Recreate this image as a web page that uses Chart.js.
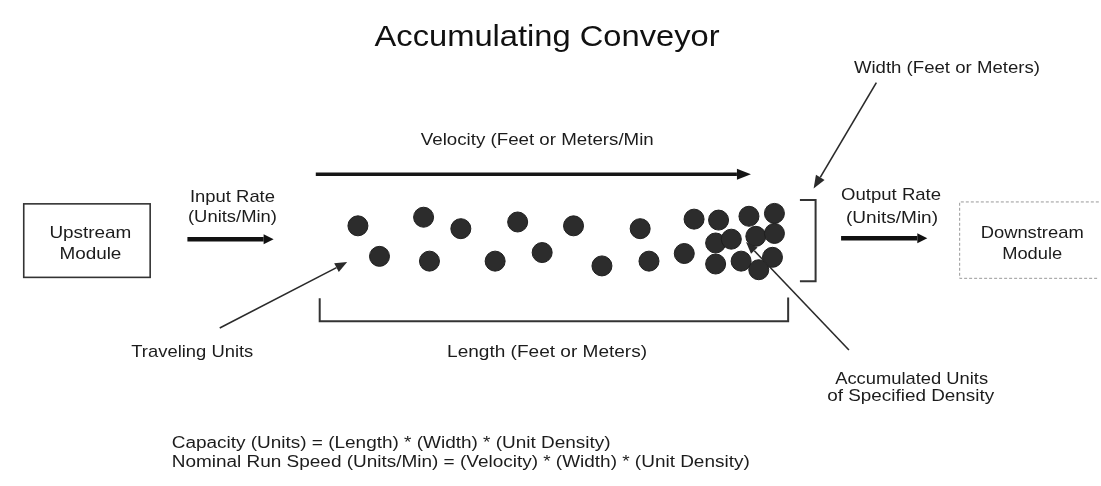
<!DOCTYPE html>
<html>
<head>
<meta charset="utf-8">
<script src="https://cdn.jsdelivr.net/npm/chart.js@4"></script>
<style>
  html, body { margin: 0; padding: 0; background: #fff; }
  canvas { display: block; }
</style>
</head>
<body>
<canvas id="c" width="1101" height="486"></canvas>
<script>
// units moving along the conveyor (diagram units)
const travelingX = [354, 421, 459, 517, 574, 642, 697, 376, 427, 494, 542, 603, 651, 687];
const travelingY = [225, 216, 228, 221, 225, 228, 218, 257, 262, 262, 253, 267, 262, 254];
// units packed at the discharge end
const accumulatedX = [722, 753, 779, 719, 735, 760, 779, 719, 745, 777, 763];
const accumulatedY = [219, 215, 212, 243, 239, 236, 233, 265, 262, 258, 271];

const titleText = "Accumulating Conveyor";
const velocityText = "Velocity (Feet or Meters/Min";
const widthText = "Width (Feet or Meters)";
const inputText = ["Input Rate", "(Units/Min)"];
const outputText = ["Output Rate", "(Units/Min)"];
const upstreamText = ["Upstream", "Module"];
const downstreamText = ["Downstream", "Module"];
const travelingText = "Traveling Units";
const lengthText = "Length (Feet or Meters)";
const accumulatedText = ["Accumulated Units", "of Specified Density"];
const formulaText = [
  "Capacity (Units) = (Length) * (Width) * (Unit Density)",
  "Nominal Run Speed (Units/Min) = (Velocity) * (Width) * (Unit Density)"
];

const FONT = '"Liberation Sans", Arial, sans-serif';

function toPoints(xs, ys) {
  let out = [];
  for (let i = 0; i < xs.length; i++) out.push({ x: xs[i], y: ys[i] });
  return out;
}

// draw text, optionally squeezed/stretched to a given width
function label(ctx, str, x, y, size, width, align, color) {
  ctx.save();
  ctx.font = size + "px " + FONT;
  let sx = 1;
  if (width) sx = width / ctx.measureText(str).width;
  ctx.translate(x, y);
  ctx.scale(sx, 1);
  ctx.textAlign = align || "center";
  ctx.textBaseline = "middle";
  ctx.fillStyle = color || "#1c1c1c";
  ctx.fillText(str, 0, 0);
  ctx.restore();
  return sx;
}

function polyline(ctx, pts, w, color, dash) {
  ctx.save();
  ctx.strokeStyle = color;
  ctx.lineWidth = w;
  ctx.lineCap = "butt";
  if (dash) ctx.setLineDash(dash);
  ctx.beginPath();
  ctx.moveTo(pts[0][0], pts[0][1]);
  for (let i = 1; i < pts.length; i++) ctx.lineTo(pts[i][0], pts[i][1]);
  ctx.stroke();
  ctx.restore();
}

function arrow(ctx, x1, y1, x2, y2, w, headLen, headW, color) {
  const ang = Math.atan2(y2 - y1, x2 - x1);
  const bx = x2 - Math.cos(ang) * headLen;
  const by = y2 - Math.sin(ang) * headLen;
  polyline(ctx, [[x1, y1], [bx, by]], w, color);
  ctx.save();
  ctx.fillStyle = color;
  ctx.beginPath();
  ctx.moveTo(x2, y2);
  ctx.lineTo(bx + Math.sin(ang) * headW / 2, by - Math.cos(ang) * headW / 2);
  ctx.lineTo(bx - Math.sin(ang) * headW / 2, by + Math.cos(ang) * headW / 2);
  ctx.closePath();
  ctx.fill();
  ctx.restore();
}

const diagramPlugin = {
  id: "diagram",
  beforeDraw(chart) {
    const ctx = chart.ctx;
    ctx.save();
    ctx.fillStyle = "#fff";
    ctx.fillRect(0, 0, chart.width, chart.height);
    ctx.restore();
  },
  afterDatasetsDraw(chart) {
    const ctx = chart.ctx;
    const sx = v => chart.scales.x.getPixelForValue(v);
    const sy = v => chart.scales.y.getPixelForValue(v);
    const P = (x, y) => [sx(x), sy(y)];

    label(ctx, titleText, sx(547), sy(28), 29, 345, "center", "#111");

    // velocity
    label(ctx, velocityText, sx(537), sy(135), 17, 233);
    arrow(ctx, sx(311), sy(171), sx(755), sy(171), 3.5, 14, 11, "#161616");

    // width
    label(ctx, widthText, sx(955), sy(60), 17, 186);
    arrow(ctx, sx(883), sy(75), sx(819), sy(186), 1.6, 13, 10, "#2a2a2a");
    polyline(ctx, [P(805, 198), P(821, 198), P(821, 283), P(805, 283)], 2, "#333");

    // upstream module + input
    ctx.save();
    ctx.strokeStyle = "#333";
    ctx.lineWidth = 1.6;
    ctx.strokeRect(sx(13), sy(202), sx(142) - sx(13), sy(279) - sy(202));
    ctx.restore();
    label(ctx, upstreamText[0], sx(81), sy(233), 17, 82);
    label(ctx, upstreamText[1], sx(81), sy(255), 17, 62);
    label(ctx, inputText[0], sx(226), sy(195), 17, 85);
    label(ctx, inputText[1], sx(226), sy(216), 17, 89);
    arrow(ctx, sx(180), sy(239), sx(268), sy(239), 4.5, 10, 10, "#111");

    // output + downstream module
    label(ctx, outputText[0], sx(898), sy(193), 17, 100);
    label(ctx, outputText[1], sx(899), sy(217), 17, 92);
    arrow(ctx, sx(847), sy(238), sx(935), sy(238), 4.5, 10, 10, "#111");
    polyline(ctx, [P(1110, 200), P(968, 200), P(968, 280), P(1110, 280)], 1, "#9a9a9a", [3, 2]);
    label(ctx, downstreamText[0], sx(1042), sy(233), 17, 103);
    label(ctx, downstreamText[1], sx(1042), sy(255), 17, 60);

    // length bracket
    polyline(ctx, [P(315, 301), P(315, 325), P(793, 325), P(793, 300)], 2, "#333");
    label(ctx, lengthText, sx(547), sy(357), 17, 200);

    // traveling units pointer
    arrow(ctx, sx(213), sy(332), sx(343), sy(263), 1.6, 12, 10, "#2a2a2a");
    label(ctx, travelingText, sx(185), sy(357), 17, 122);

    // accumulated units pointer
    arrow(ctx, sx(855), sy(355), sx(750), sy(242), 1.6, 12, 9, "#2a2a2a");
    label(ctx, accumulatedText[0], sx(919), sy(386), 17, 153);
    label(ctx, accumulatedText[1], sx(918), sy(404), 17, 167);

    // formulas
    ctx.save();
    ctx.font = "16px " + FONT;
    const k = 578 / ctx.measureText(formulaText[1]).width;
    const w0 = ctx.measureText(formulaText[0]).width * k;
    ctx.restore();
    label(ctx, formulaText[0], sx(164), sy(453), 16, w0, "left");
    label(ctx, formulaText[1], sx(164), sy(473), 16, 578, "left");
  }
};

new Chart(document.getElementById("c"), {
  type: "scatter",
  data: {
    datasets: [
      {
        label: "Traveling Units",
        data: toPoints(travelingX, travelingY),
        pointRadius: 10,
        pointHoverRadius: 10,
        backgroundColor: "#2c2c2c",
        borderColor: "#1f1f1f",
        borderWidth: 1
      },
      {
        label: "Accumulated Units",
        data: toPoints(accumulatedX, accumulatedY),
        pointRadius: 10,
        pointHoverRadius: 10,
        backgroundColor: "#2c2c2c",
        borderColor: "#1f1f1f",
        borderWidth: 1
      }
    ]
  },
  options: {
    responsive: false,
    animation: false,
    events: [],
    layout: { padding: 0 },
    plugins: { legend: { display: false }, tooltip: { enabled: false } },
    scales: {
      x: { type: "linear", min: 0, max: 1101, display: false },
      y: { type: "linear", min: 0, max: 486, reverse: true, display: false }
    }
  },
  plugins: [diagramPlugin]
});
</script>
</body>
</html>
